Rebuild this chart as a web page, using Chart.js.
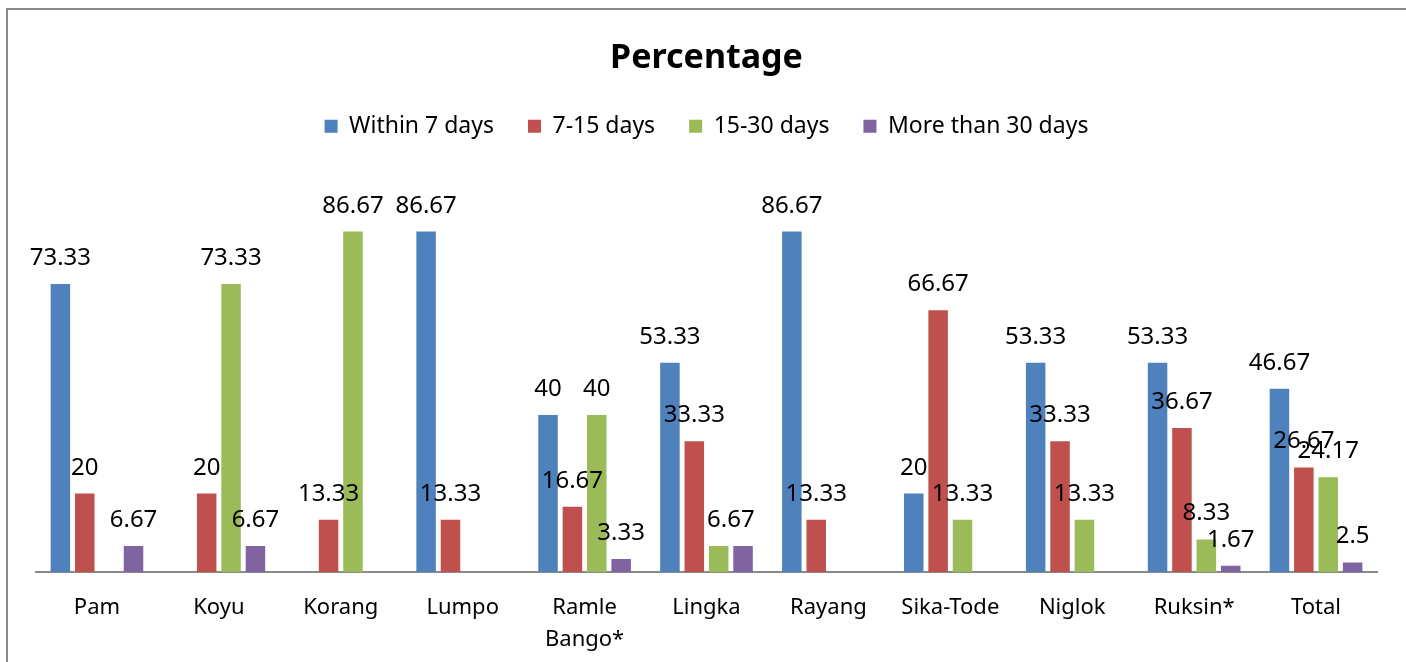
<!DOCTYPE html>
<html>
<head>
<meta charset="utf-8">
<title>Percentage</title>
<script src="https://cdn.jsdelivr.net/npm/chart.js@4.4.1/dist/chart.umd.min.js"></script>
<style>
  html, body { margin: 0; padding: 0; background: #fff; }
  #wrap { position: relative; width: 1406px; height: 662px; overflow: hidden; }
  #frame {
    position: absolute; left: 6px; top: 8px; width: 1500px; height: 800px;
    border-left: 2px solid #8a8a8a; border-top: 2px solid #8a8a8a;
    pointer-events: none;
  }
</style>
</head>
<body>
<div id="wrap">
  <canvas id="pctChart" width="1406" height="662"></canvas>
  <div id="frame"></div>
</div>
<script>
// categories (villages) and the four response groups
const categories = ['Pam', 'Koyu', 'Korang', 'Lumpo', ['Ramle', 'Bango*'], 'Lingka', 'Rayang', 'Sika-Tode', 'Niglok', 'Ruksin*', 'Total'];
const seriesNames = ['Within 7 days', '7-15 days', '15-30 days', 'More than 30 days'];

const within7  = [73.33, 0, 0, 86.67, 40, 53.33, 86.67, 20, 53.33, 53.33, 46.67];
const days7to15 = [20, 20, 13.33, 13.33, 16.67, 33.33, 13.33, 66.67, 33.33, 36.67, 26.67];
const days15to30 = [0, 73.33, 86.67, 0, 40, 6.67, 0, 13.33, 13.33, 8.33, 24.17];
const over30 = [6.67, 6.67, 0, 0, 3.33, 6.67, 0, 0, 0, 1.67, 2.5];

const colors = ['#4F81BD', '#C0504D', '#9BBB59', '#8064A2'];

// value labels above each non-zero bar (Excel style)
// neighbouring bars of equal height and value share one label
const valueLabels = {
    id: 'valueLabels',
    afterDatasetsDraw(chart) {
        const ctx = chart.ctx;
        ctx.save();
        ctx.font = '24px "Noto Sans"';
        ctx.fillStyle = '#000';
        ctx.textAlign = 'center';
        ctx.textBaseline = 'alphabetic';
        const n = chart.data.labels.length;
        for (let j = 0; j < n; j++) {
            const items = [];
            chart.data.datasets.forEach((ds, i) => {
                const v = ds.data[j];
                if (!v) return;
                const bar = chart.getDatasetMeta(i).data[j];
                const last = items[items.length - 1];
                if (last && last.text === String(v) && Math.abs(last.y - bar.y) < 1) {
                    last.x = (last.x + bar.x) / 2;
                } else {
                    items.push({ text: String(v), x: bar.x, y: bar.y });
                }
            });
            items.forEach(it => ctx.fillText(it.text, it.x, it.y - 19));
        }
        ctx.restore();
    }
};

const allSeries = [within7, days7to15, days15to30, over30];

new Chart(document.getElementById('pctChart'), {
    type: 'bar',
    data: {
        labels: categories,
        datasets: allSeries.map((data, i) => ({
            label: seriesNames[i],
            data: data,
            backgroundColor: colors[i],
            borderWidth: 0,
            categoryPercentage: 0.8,
            barPercentage: 0.8
        }))
    },
    options: {
        responsive: false,
        animation: false,
        layout: {
            padding: { left: 36, right: 29, top: 0, bottom: -6 }
        },
        plugins: {
            title: {
                display: true,
                text: 'Percentage',
                color: '#000',
                font: { family: '"Noto Sans"', size: 34, weight: 'bold' },
                padding: { top: 38, bottom: 2 }
            },
            legend: {
                display: true,
                position: 'top',
                labels: {
                    color: '#000',
                    font: { family: '"Noto Sans"', size: 23 },
                    boxWidth: 13,
                    boxHeight: 13,
                    padding: 34
                }
            },
            tooltip: { enabled: false }
        },
        scales: {
            y: {
                display: false,
                min: 0,
                max: 108.0
            },
            x: {
                grid: { display: false },
                border: { display: true, color: '#8a8a8a', width: 2 },
                ticks: {
                    color: '#000',
                    font: { family: '"Noto Sans"', size: 22, lineHeight: 1.45 },
                    padding: 12,
                    maxRotation: 0,
                    autoSkip: false
                }
            }
        }
    },
    plugins: [valueLabels]
});
</script>
</body>
</html>
